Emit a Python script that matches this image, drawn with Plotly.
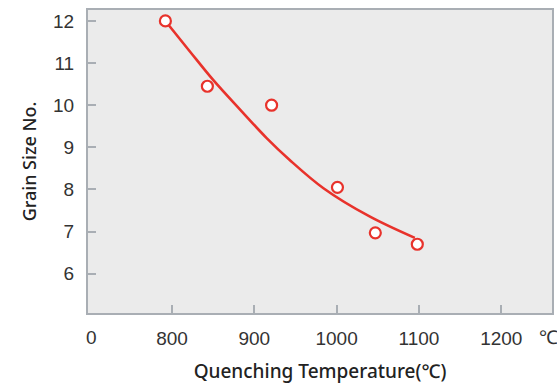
import plotly.graph_objects as go

# Measured grain size after quenching
temperature = [792, 843, 921, 1001, 1047, 1098]
grain_size = [12.0, 10.45, 10.0, 8.05, 6.97, 6.7]

# Trend curve through the measurements
trend_temperature = [792, 822, 850, 883, 915, 943, 984, 1040, 1095]
trend_grain_size = [12.0, 11.27, 10.6, 9.89, 9.22, 8.70, 8.03, 7.36, 6.85]

x_tick_values = [800, 900, 1000, 1100, 1200]
x_tick_labels = ["800", "900", "1000", "1100", "1200"]
y_tick_values = [6, 7, 8, 9, 10, 11, 12]

RED = "#e8322b"
AXIS_GREY = "#a9aeb4"
TEXT = "#333333"
FONT = "Liberation Sans"
TITLE_FONT = "Noto Sans"

fig = go.Figure()

fig.add_trace(go.Scatter(
    x=trend_temperature, y=trend_grain_size,
    mode="lines", line=dict(color=RED, width=2.6, shape="spline", smoothing=1.0),
    hoverinfo="skip", showlegend=False,
))

fig.add_trace(go.Scatter(
    x=temperature, y=grain_size,
    mode="markers",
    marker=dict(symbol="circle", size=11, color="white",
                line=dict(color=RED, width=2.2)),
    showlegend=False,
))

axis_common = dict(
    showline=True, linecolor=AXIS_GREY, linewidth=2, mirror=True,
    ticks="inside", ticklen=8, tickwidth=2, tickcolor=AXIS_GREY,
    showgrid=False, zeroline=False, automargin=False,
    tickfont=dict(family=FONT, size=19, color=TEXT),
)

fig.update_xaxes(
    range=[698, 1261.6], tickvals=x_tick_values, ticktext=x_tick_labels,
    ticklabelstandoff=7,
    title=dict(text="Quenching Temperature(℃)", standoff=19,
               font=dict(family=TITLE_FONT, size=19, color="#222222", weight=500)),
    **axis_common,
)
fig.update_yaxes(
    range=[5.068, 12.26], tickvals=y_tick_values,
    ticklabelstandoff=8,
    title=dict(text="Grain Size No.", standoff=12,
               font=dict(family=TITLE_FONT, size=18, color="#222222", weight=500)),
    **axis_common,
)

# Broken-axis origin label and unit marker along the temperature axis
for x_val, text in [(702, "0"), (1257, "℃")]:
    fig.add_annotation(
        x=x_val, y=0, xref="x", yref="paper", text=text, showarrow=False,
        yanchor="top", yshift=-12,
        font=dict(family=FONT, size=19, color=TEXT),
    )

fig.update_layout(
    width=557, height=384,
    margin=dict(l=88, r=5, t=10, b=71),
    paper_bgcolor="white", plot_bgcolor="#ebebeb",
)

fig.write_html("out.html")
